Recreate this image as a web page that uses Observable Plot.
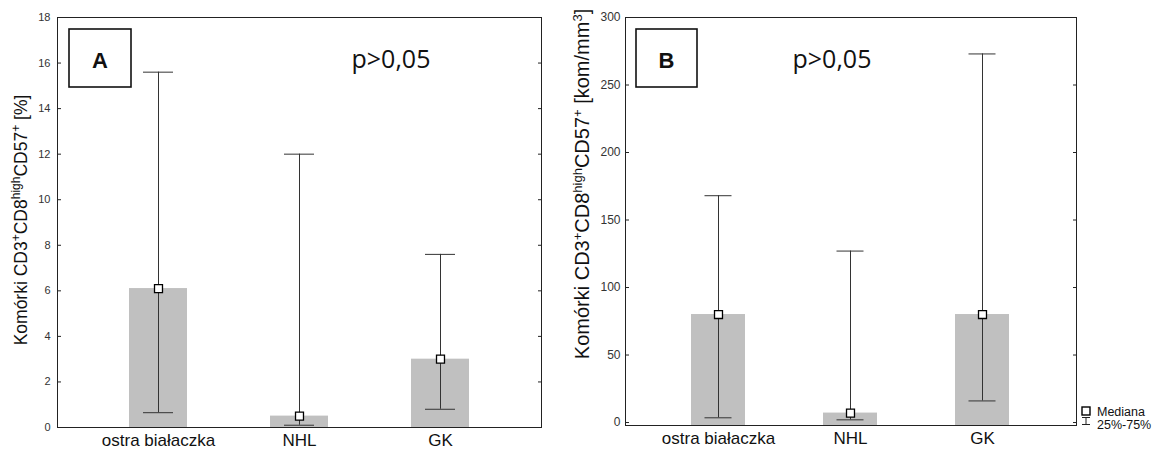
<!DOCTYPE html>
<html>
<head>
<meta charset="utf-8">
<script src="https://cdn.jsdelivr.net/npm/d3@7"></script>
<script src="https://cdn.jsdelivr.net/npm/@observablehq/plot@0.6"></script>
<style>
  body { margin: 0; background: #fff; }
  #chart { position: relative; width: 1153px; height: 452px; font-family: "Liberation Sans", Arial, sans-serif; }
  #chart svg { position: absolute; top: 0; overflow: visible; }
</style>
</head>
<body>
<div id="chart"></div>
<script>
// Patient groups
const groups = ["ostra białaczka", "NHL", "GK"];

// Panel A: share of CD3+CD8highCD57+ cells [%]
const pctMedian = [6.1, 0.5, 3.0];
const pctQ1 = [0.65, 0.1, 0.8];
const pctQ3 = [15.6, 12.0, 7.6];
const pctTicks = [0, 2, 4, 6, 8, 10, 12, 14, 16, 18];
const pctDomain = [0, 18];

// Panel B: absolute count of CD3+CD8highCD57+ cells [kom/mm3]
const absMedian = [80, 7, 80];
const absQ1 = [3.5, 2, 16];
const absQ3 = [168, 127, 273];
const absTicks = [0, 50, 100, 150, 200, 250, 300];
const absDomain = [-2.2, 300];

const pValue = "p>0,05";
const legendMedian = "Mediana";
const legendRange = "25%-75%";

const FONT = "'Liberation Sans', Arial, sans-serif";

function rowsOf(median, q1, q3) {
  return groups.map((g, i) => ({group: g, median: median[i], q1: q1[i], q3: q3[i]}));
}

function panel({rows, width, marginLeft, marginRight, marginBottom, domain, ticks, cap, tickPad, tickFont}) {
  const fw = width - marginLeft - marginRight;
  const yMin = domain[0];
  return Plot.plot({
    width,
    height: 452,
    marginLeft,
    marginRight,
    marginTop: 17,
    marginBottom,
    style: {fontFamily: FONT, fontSize: "12px", color: "#222", background: "transparent", overflow: "visible"},
    x: {domain: groups, paddingInner: 0.59, paddingOuter: 0.5, label: null},
    y: {domain, label: null},
    marks: [
      // median bars rising from the bottom of the frame
      Plot.rectY(rows, {x: "group", y1: yMin, y2: "median", fill: "#c0c0c0"}),
      // interquartile whiskers with caps
      Plot.ruleX(rows, {x: "group", y1: "q1", y2: "q3", stroke: "#333", strokeWidth: 1}),
      Plot.tickY(rows, {x: "group", y: "q1", inset: cap, stroke: "#333", strokeWidth: 1}),
      Plot.tickY(rows, {x: "group", y: "q3", inset: cap, stroke: "#333", strokeWidth: 1}),
      // median markers
      Plot.dot(rows, {x: "group", y: "median", symbol: "square", r: 4.5, fill: "white", stroke: "black", strokeWidth: 1.3}),
      Plot.frame({stroke: "#222", strokeWidth: 1}),
      // tick labels on the left, inward tick marks on both sides
      Plot.axisY(ticks, {anchor: "left", tickSize: 0, tickPadding: tickPad, fontSize: tickFont, fill: "#333", label: null}),
      Plot.axisY(ticks, {anchor: "right", tickSize: 3, dx: -fw, tickFormat: () => "", label: null, stroke: "#222"}),
      Plot.axisY(ticks, {anchor: "left", tickSize: 3, dx: fw, tickFormat: () => "", label: null, stroke: "#222"}),
      Plot.axisX({tickSize: 0, tickPadding: 6, fontSize: 17, fill: "#111", label: null})
    ]
  });
}

// rotated y label with superscripts
function yLabel(svg, x, cy, size, unitParts) {
  const t = d3.select(svg).append("text")
    .attr("transform", `translate(${x},${cy}) rotate(-90)`)
    .attr("text-anchor", "middle")
    .attr("font-family", FONT)
    .attr("font-size", size)
    .attr("fill", "#111");
  const parts = [["Komórki CD3", false], ["+", true], ["CD8", false], ["high", true], ["CD57", false], ["+", true], ...unitParts];
  for (const [s, sup] of parts) {
    const ts = t.append("tspan").text(s);
    if (sup) ts.attr("font-size", Math.round(size * 0.66)).attr("baseline-shift", "super");
  }
}

function boxLabel(svg, x, y, w, h, letter) {
  const g = d3.select(svg).append("g");
  g.append("rect").attr("x", x).attr("y", y).attr("width", w).attr("height", h)
    .attr("fill", "white").attr("stroke", "#111").attr("stroke-width", 1.6);
  g.append("text").attr("x", x + w / 2).attr("y", y + 39).attr("text-anchor", "middle")
    .attr("font-family", FONT).attr("font-weight", "bold").attr("font-size", 22).attr("fill", "#111").text(letter);
}

function pLabel(svg, cx, y) {
  d3.select(svg).append("text").attr("x", cx).attr("y", y).attr("text-anchor", "middle")
    .attr("font-family", "'Open Sans', sans-serif").attr("font-size", 25).attr("fill", "#111").text(pValue);
}

const chart = document.getElementById("chart");

const left = panel({
  rows: rowsOf(pctMedian, pctQ1, pctQ3),
  width: 570, marginLeft: 57, marginRight: 29, marginBottom: 25,
  domain: pctDomain, ticks: pctTicks, cap: 14, tickPad: 7, tickFont: 11
});
left.style.left = "0px";
chart.appendChild(left);
yLabel(left, 27, 220, 17.5, [[" [%]", false]]);
boxLabel(left, 69, 29, 62, 58, "A");
pLabel(left, 391, 68);

const right = panel({
  rows: rowsOf(absMedian, absQ1, absQ3),
  width: 583, marginLeft: 55, marginRight: 77, marginBottom: 27,
  domain: absDomain, ticks: absTicks, cap: 13.5, tickPad: 5, tickFont: 12
});
right.style.left = "570px";
chart.appendChild(right);
yLabel(right, 19, 184, 20, [[" [kom/mm", false], ["3", true], ["]", false]]);
boxLabel(right, 66, 29, 61, 58, "B");
pLabel(right, 262, 68);

// legend
const lg = d3.select(right).append("g").attr("font-family", FONT).attr("font-size", 12.5)
  .attr("fill", "#111").attr("text-anchor", "start");
lg.append("rect").attr("x", 512).attr("y", 407).attr("width", 8).attr("height", 8)
  .attr("fill", "white").attr("stroke", "black").attr("stroke-width", 1.4);
lg.append("text").attr("x", 527).attr("y", 416).text(legendMedian);
lg.append("path").attr("d", "M512,417.5H520M516,417.5V424.5M512,424.5H520").attr("stroke", "#222").attr("fill", "none");
lg.append("text").attr("x", 527).attr("y", 428.5).text(legendRange);
</script>
</body>
</html>
